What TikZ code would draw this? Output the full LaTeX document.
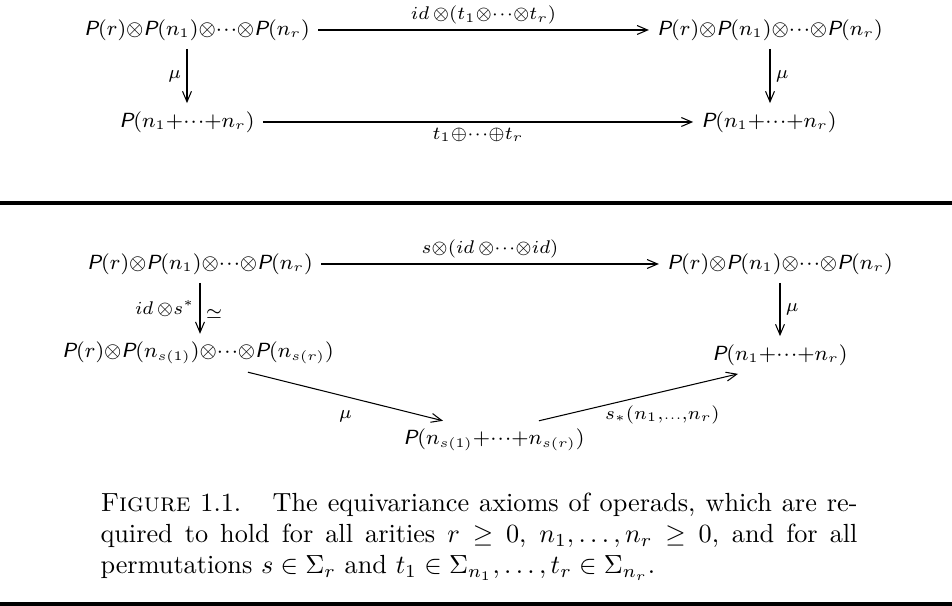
\documentclass[tikz,border=0pt]{standalone}
\usepackage{amsmath,amssymb}
\usetikzlibrary{arrows.meta, positioning, calc}
\newcommand{\Pop}{\text{\normalfont\sffamily\slshape P}}
\newcommand{\tn}{{\otimes}}
\newcommand{\dts}{{\cdotp\mkern-2mu\cdotp\mkern-2mu\cdotp}}

\begin{document}
\begin{tikzpicture}[
        x=0.0134cm, y=-0.0134cm,
        obj/.style={font=\fontsize{7.8}{9}\selectfont, inner sep=3pt},
        arr/.style={-{Straight Barb[length=4pt, width=3.4pt]}, line width=0.4pt},
        lbl/.style={font=\scriptsize, inner sep=2pt},
        rule/.style={line width=1.2pt}
    ]
        \useasboundingbox (0,0) rectangle (952,606);

        % first square
        \node[obj] (a1) at (197,30) {$\Pop(r)\tn\Pop(n_1)\tn\dts\tn\Pop(n_r)$};
        \node[obj] (a2) at (770,30) {$\Pop(r)\tn\Pop(n_1)\tn\dts\tn\Pop(n_r)$};
        \node[obj] (a3) at (187,122) {$\Pop(n_1{+}\dts{+}n_r)$};
        \node[obj] (a4) at (769,122) {$\Pop(n_1{+}\dts{+}n_r)$};
        \draw[arr] (a1) -- node[lbl, above] {$id\,\tn(t_1\tn\dts\tn t_r)$} (a2);
        \draw[arr] (a1.south -| a3) -- node[lbl, left] {$\mu$} (a3);
        \draw[arr] (a2) -- node[lbl, right] {$\mu$} (a4.north -| a2);
        \draw[arr] (a3) -- node[lbl, below] {$t_1{\oplus}\dts{\oplus}t_r$} (a4);

        \draw[rule] (0,203) -- (952,203);

        % second diagram
        \node[obj] (b1) at (200,264) {$\Pop(r)\tn\Pop(n_1)\tn\dts\tn\Pop(n_r)$};
        \node[obj] (b2) at (780,264) {$\Pop(r)\tn\Pop(n_1)\tn\dts\tn\Pop(n_r)$};
        \node[obj] (b3) at (198,353) {$\Pop(r)\tn\Pop(n_{s(1)})\tn\dts\tn\Pop(n_{s(r)})$};
        \node[obj] (b4) at (780,355) {$\Pop(n_1{+}\dts{+}n_r)$};
        \node[obj] (b5) at (494,440) {$\Pop(n_{s(1)}{+}\dts{+}n_{s(r)})$};
        \draw[arr] (b1) -- node[lbl, above] {$s\tn(id\,\tn\dts\tn id)$} (b2);
        \draw[arr] (b1) -- node[lbl, left] {$id\,\tn s^*$} node[lbl, right, yshift=-2pt] {$\simeq$} (b1 |- b3.north);
        \draw[arr] (b2) -- node[lbl, right] {$\mu$} (b2 |- b4.north);
        \draw[arr] ($(b3.south)+(50,0)$) -- node[lbl, below=3pt] {$\mu$} ($(b5.north)+(-51,0)$);
        \draw[arr] ($(b5.north)+(45,0)$) -- node[lbl, pos=0.62, below=3pt] {$s_*(n_1{,}{\scriptscriptstyle\ldots}{,}n_r)$} ($(b4.south)+(-42,0)$);

        % caption
        \node[anchor=north west, inner sep=0pt, text width=757*0.0134cm, align=justify] (cap) at (100,492)
            {\textsc{Figure} 1.1.\hspace{1.2em}The equivariance axioms of operads, which are re-\linebreak
            quired to hold for all arities $r\geq 0$, $n_1,\ldots,n_r\geq 0$, and for all\linebreak
            permutations $s\in\Sigma_r$ and $t_1\in\Sigma_{n_1},\ldots,t_r\in\Sigma_{n_r}$.};

        \draw[rule] (0,604) -- (952,604);
    \end{tikzpicture}
\end{document}
